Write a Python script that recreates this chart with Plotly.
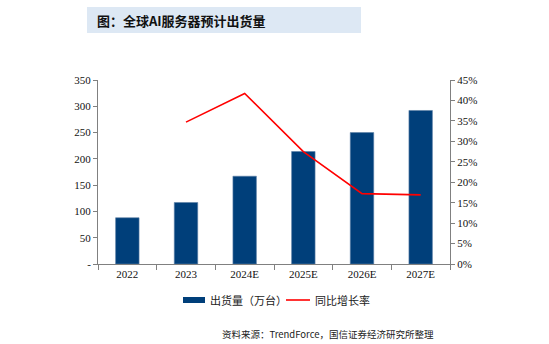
import plotly.graph_objects as go

categories = ["2022", "2023", "2024E", "2025E", "2026E", "2027E"]
shipments = [88, 117, 167, 214, 250, 292]
growth = [None, 0.347, 0.417, 0.275, 0.172, 0.169]
left_ticks = [0, 50, 100, 150, 200, 250, 300, 350]
left_tick_text = ["-", "50", "100", "150", "200", "250", "300", "350"]
right_ticks = [0, 0.05, 0.10, 0.15, 0.20, 0.25, 0.30, 0.35, 0.40, 0.45]
bar_name = "出货量（万台）"
line_name = "同比增长率"

W, H = 549, 344
L, R, T, B = 98, 99, 80, 80
pw = W - L - R
ph = H - T - B

def px(x):
    return (x - L) / pw

def py(y):
    return (H - B - y) / ph

serif = "Liberation Serif"
cjk = "Noto Sans CJK SC"
bar_color = "#003f7a"
line_color = "#ff0000"

fig = go.Figure()
fig.add_trace(go.Bar(
    x=categories, y=shipments, name=bar_name,
    marker=dict(color=bar_color, line=dict(color="#5d7fa6", width=0.6)),
    yaxis="y", showlegend=False,
))
fig.add_trace(go.Scatter(
    x=categories, y=growth, name=line_name, mode="lines",
    line=dict(color=line_color, width=1.6), yaxis="y2", showlegend=False,
))

fig.update_layout(
    width=W, height=H,
    margin=dict(l=L, r=R, t=T, b=B),
    paper_bgcolor="white", plot_bgcolor="white",
    bargap=0.6,
    showlegend=False,
    xaxis=dict(
        type="category", showline=True, linecolor="#808080", linewidth=1,
        ticks="outside", tickson="boundaries", ticklen=5, tickcolor="#808080",
        tickfont=dict(family=serif, size=11, color="#111"), showgrid=False,
    ),
    yaxis=dict(
        range=[0, 350], tickvals=left_ticks, ticktext=left_tick_text,
        showline=True, linecolor="#808080", linewidth=1, ticks="outside",
        ticklen=4, tickcolor="#808080", showgrid=False, zeroline=False,
        tickfont=dict(family=serif, size=11, color="#111"),
    ),
    yaxis2=dict(
        range=[0, 0.45], tickvals=right_ticks, tickformat=".0%", overlaying="y",
        side="right", showline=True, linecolor="#808080", linewidth=1,
        ticks="outside", ticklen=4, tickcolor="#808080", showgrid=False, zeroline=False,
        tickfont=dict(family=serif, size=11, color="#111"),
    ),
    shapes=[
        dict(type="rect", xref="paper", yref="paper",
             x0=px(87), x1=px(361), y0=py(33), y1=py(7),
             fillcolor="#dde8f4", line=dict(width=0), layer="below"),
        dict(type="rect", xref="paper", yref="paper",
             x0=px(183), x1=px(205), y0=py(303), y1=py(297),
             fillcolor=bar_color, line=dict(width=0)),
        dict(type="line", xref="paper", yref="paper",
             x0=px(286), x1=px(310), y0=py(300), y1=py(300),
             line=dict(color=line_color, width=1.6)),
    ],
    annotations=[
        dict(text="<b>图：全球AI服务器预计出货量</b>", xref="paper", yref="paper",
             x=px(95), y=py(20), xanchor="left", yanchor="middle", showarrow=False,
             font=dict(family=cjk, size=13, color="#111")),
        dict(text=bar_name, xref="paper", yref="paper",
             x=px(208), y=py(300), xanchor="left", yanchor="middle", showarrow=False,
             font=dict(family=cjk, size=11, color="#222")),
        dict(text=line_name, xref="paper", yref="paper",
             x=px(313), y=py(300), xanchor="left", yanchor="middle", showarrow=False,
             font=dict(family=cjk, size=11, color="#222")),
        dict(text="资料来源：TrendForce，国信证券经济研究所整理", xref="paper", yref="paper",
             x=px(436), y=py(334), xanchor="right", yanchor="middle", showarrow=False,
             font=dict(family=cjk, size=9.5, color="#222")),
    ],
)

fig.write_html("out.html")
